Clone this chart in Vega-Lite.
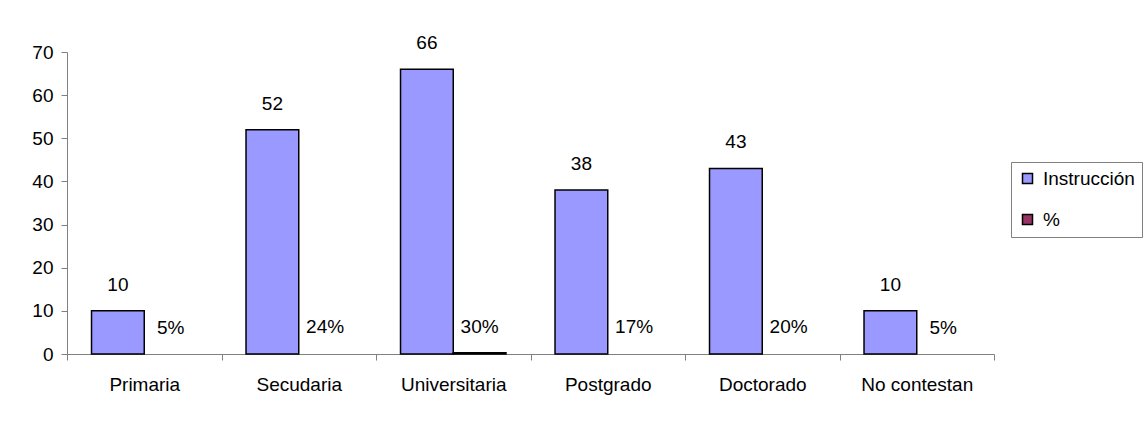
{
  "$schema": "https://vega.github.io/schema/vega-lite/v6.json",
  "width": 927,
  "height": 302,
  "autosize": {"type": "none"},
  "padding": {"left": 67, "top": 52, "right": 153, "bottom": 72},
  "background": "white",
  "data": {
    "values": [
      {"nivel": "Primaria", "serie": "Instrucción", "valor": 10},
      {"nivel": "Primaria", "serie": "%", "valor": 0.05},
      {"nivel": "Secudaria", "serie": "Instrucción", "valor": 52},
      {"nivel": "Secudaria", "serie": "%", "valor": 0.24},
      {"nivel": "Universitaria", "serie": "Instrucción", "valor": 66},
      {"nivel": "Universitaria", "serie": "%", "valor": 0.30},
      {"nivel": "Postgrado", "serie": "Instrucción", "valor": 38},
      {"nivel": "Postgrado", "serie": "%", "valor": 0.17},
      {"nivel": "Doctorado", "serie": "Instrucción", "valor": 43},
      {"nivel": "Doctorado", "serie": "%", "valor": 0.20},
      {"nivel": "No contestan", "serie": "Instrucción", "valor": 10},
      {"nivel": "No contestan", "serie": "%", "valor": 0.05}
    ]
  },
  "encoding": {
    "x": {
      "field": "nivel",
      "type": "nominal",
      "sort": ["Primaria", "Secudaria", "Universitaria", "Postgrado", "Doctorado", "No contestan"],
      "scale": {"paddingInner": 0, "paddingOuter": 0},
      "axis": {
        "title": null,
        "labelAngle": 0,
        "tickBand": "extent",
        "domainColor": "#808080",
        "tickColor": "#808080",
        "tickSize": 6,
        "labelFontSize": 19,
        "labelPadding": 15,
        "labelColor": "black",
        "labelFont": "Liberation Sans"
      }
    },
    "xOffset": {
      "field": "serie",
      "type": "nominal",
      "sort": ["Instrucción", "%"],
      "scale": {"paddingOuter": 0.465, "paddingInner": 0}
    },
    "y": {
      "field": "valor",
      "type": "quantitative",
      "scale": {"domain": [0, 70]},
      "axis": {
        "title": null,
        "grid": false,
        "values": [0, 10, 20, 30, 40, 50, 60, 70],
        "domainColor": "#808080",
        "tickColor": "#808080",
        "tickSize": 6,
        "labelFontSize": 19,
        "labelPadding": 8,
        "labelColor": "black",
        "labelFont": "Liberation Sans"
      }
    }
  },
  "layer": [
    {
      "mark": {"type": "bar", "strokeWidth": 1.5},
      "encoding": {
        "color": {
          "field": "serie",
          "type": "nominal",
          "sort": ["Instrucción", "%"],
          "scale": {"domain": ["Instrucción", "%"], "range": ["#9999FF", "#993366"]},
          "legend": {
            "title": null,
            "orient": "none",
            "legendX": 944,
            "legendY": 110,
            "strokeColor": "#808080",
            "fillColor": "white",
            "padding": 7,
            "labelFontSize": 19,
            "labelFont": "Liberation Sans",
            "labelColor": "black",
            "labelLimit": 200,
            "symbolType": "square",
            "symbolSize": 100,
            "symbolStrokeColor": "black",
            "symbolStrokeWidth": 1.5,
            "symbolOpacity": 1,
            "rowPadding": 21,
            "labelOffset": 6
          }
        },
        "stroke": {
          "condition": {"test": "datum.serie == 'Instrucción' || datum.valor >= 0.3", "value": "black"},
          "value": null
        },
        "opacity": {
          "condition": {"test": "datum.serie == 'Instrucción' || datum.valor >= 0.3", "value": 1},
          "value": 0
        }
      }
    },
    {
      "transform": [{"filter": "datum.serie == 'Instrucción'"}],
      "mark": {"type": "text", "dy": -20, "baseline": "alphabetic", "fontSize": 19, "font": "Liberation Sans", "color": "black"},
      "encoding": {"text": {"field": "valor", "type": "quantitative"}}
    },
    {
      "transform": [{"filter": "datum.serie == '%'"}],
      "mark": {"type": "text", "dy": -20, "baseline": "alphabetic", "fontSize": 19, "font": "Liberation Sans", "color": "black"},
      "encoding": {"text": {"field": "valor", "type": "quantitative", "format": ".0%"}}
    }
  ],
  "config": {"view": {"stroke": null}}
}
